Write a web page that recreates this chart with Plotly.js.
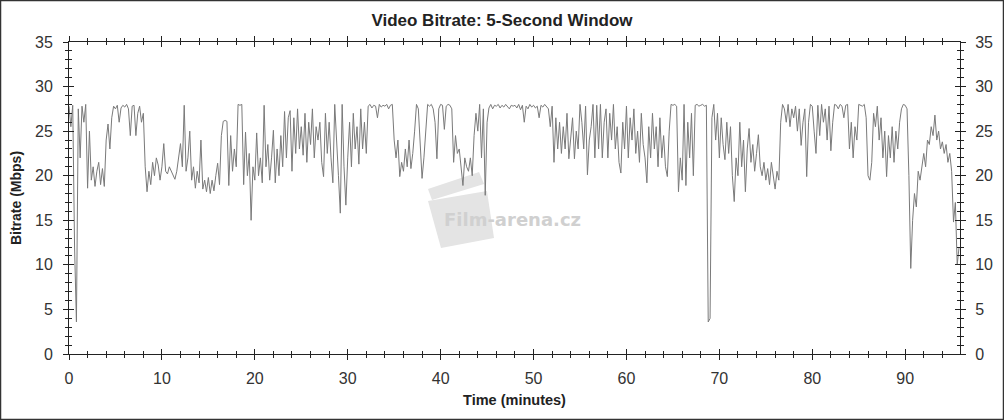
<!DOCTYPE html>
<html>
<head>
<meta charset="utf-8">
<script src="https://cdn.plot.ly/plotly-3.0.1.min.js"></script>
<style>
  html, body { margin: 0; padding: 0; background: #fff; }
  #chart { width: 1004px; height: 420px; }
</style>
</head>
<body>
<div id="chart"></div>
<script>
// Sampling step of the read-off series (minutes)
const STEP = 0.2;

// Video bitrate (Mbps), one value every 0.2 minutes
const bitrate = [
  27.8, 25.5, 27.9, 12, 3.6,
  27.5, 22, 27.8, 26, 28,
  18.6, 25, 19.5, 21, 18.8,
  20.5, 21.5, 19, 20.8, 18.8,
  24, 25.8, 23, 26.5, 27.8,
  27.5, 27.9, 26, 27.6, 27.9,
  27.7, 28, 27.5, 24.5, 27.8,
  27.9, 24.5, 27, 27.8, 26,
  27, 21, 18.2, 20.5, 19,
  21.5, 20, 22, 21.2, 19.5,
  21, 23.6, 20.5, 20.2, 21,
  20.5, 20, 19.6, 20.5, 21.8,
  23.6, 21, 27.9, 20.5, 22,
  25, 19.5, 21, 18.6, 20.5,
  19.2, 24, 18.5, 19.5, 18.2,
  19.8, 18, 19.5, 18.3, 20,
  21.4, 19, 24.5, 26.1, 26.2,
  26.1, 18.9, 24.5, 20.5, 23,
  21, 28, 27.9, 28, 19,
  24.9, 20, 22.5, 15.0, 21,
  19.5, 24.8, 20, 22, 19.2,
  27.9, 21, 23.5, 19.5, 22,
  25.1, 19.2, 23, 20, 24.5,
  21, 27.2, 22, 26.5, 27.3,
  20.5, 26.5, 22.5, 27.5, 23,
  25.5, 22.3, 27, 21.5, 26,
  23.5, 27.5, 22, 25.5, 24,
  26, 21.5, 19.9, 27, 22.5,
  26, 22, 19.2, 28, 23,
  20, 15.8, 28, 21, 16.7,
  22, 26, 21, 27, 23,
  25.5, 21.3, 27.5, 23, 26,
  22.5, 27.8, 28, 27.6, 27.9,
  27.8, 26.5, 28, 27.7, 27.9,
  27.8, 28, 27.5, 27.9, 28,
  24, 22, 24, 19.9, 21.5,
  20.5, 23, 21, 24, 20.8,
  22.5, 25, 28, 27.5, 23,
  19.7, 22, 24.5, 28, 27.8,
  28, 27.5, 26, 21.9, 27.5,
  28, 27.9, 25.2, 27.8, 28,
  27.9, 27.5, 21.5, 24.5, 22.5,
  23, 21, 18.9, 22, 21,
  20.5, 22, 20, 24.5, 27,
  25, 28, 22, 27.5, 17.8,
  26, 27.6, 28, 27.5, 27.9,
  27.8, 28, 27.6, 27.9, 27.7,
  28, 27.8, 27.5, 27.9, 27.8,
  27.9, 27.6, 28, 27.4, 27.9,
  26, 27.8, 27.5, 28, 27.7,
  27.9, 27.6, 27.8, 26.5, 27.9,
  27.7, 28, 27.8, 27.5, 25.5,
  27.8, 21.5, 26.5, 23, 26,
  22.5, 25.5, 23, 27, 21.9,
  24.5, 26.5, 21.9, 25, 23,
  28, 26, 23, 27.8, 20.1,
  24, 25.5, 28, 22, 27.9,
  23, 28, 22, 26, 27.5,
  22, 27, 24, 28, 23,
  25.5, 21.5, 20.3, 26, 23,
  27.8, 22, 26.5, 24, 27.5,
  22.5, 25, 21.5, 27, 23.5,
  22, 19.2, 25.5, 22, 27,
  23, 25.5, 21, 26.5, 22,
  24.5, 21, 19.9, 25, 28,
  27.9, 28, 27.8, 18.2, 22,
  19.5, 28, 18.9, 26, 22,
  27, 20, 27.9, 28, 27.8,
  27.9, 28, 27.8, 27.9, 3.6,
  4, 26.5, 28, 24, 27,
  22, 26.5, 23.5, 21.8, 26,
  22.5, 25.5, 20, 17.1, 22,
  20, 26, 21, 24, 18.2,
  23, 25.3, 21.5, 23.5, 20.5,
  22.5, 24.6, 21, 20, 21.5,
  19.5, 20.8, 19, 21.5, 20,
  18.5, 20.5, 19.5, 26, 28,
  27.5, 26, 28, 25.5, 27.5,
  26.5, 27.8, 25, 27.5, 23.4,
  26, 27.5, 19.9, 26, 28,
  27.8, 25, 22.5, 27.9, 24.5,
  28, 26, 27.5, 24, 27.8,
  22.8, 26, 28, 27.9, 27.5,
  28, 27.8, 26.5, 27.9, 28,
  23, 26, 22, 25.5, 24,
  28, 27.9, 27.8, 28, 26.5,
  20, 19.5, 21.5, 27, 25.5,
  27.8, 24, 26.5, 22, 25,
  19.9, 24.5, 22, 25.5, 21.5,
  25, 23, 26, 27.5, 28,
  27.9, 27.5, 20, 9.6, 15,
  18, 16.5, 20.5, 19.5, 21,
  22.5, 21, 24, 23.5, 25.5,
  24.5, 26.8, 24, 25, 23,
  23.8, 22.5, 23.5, 21.5, 22.5,
  20.5, 14.8, 17, 10, 12
];
const minutes = bitrate.map((_, i) => +(i * STEP).toFixed(1));

const chartTitle = 'Video Bitrate: 5-Second Window';
const xTitle = 'Time (minutes)';
const yTitle = 'Bitrate (Mbps)';
const watermark = 'Film-arena.cz';

const X_RANGE = [0, 95.9];
const Y_RANGE = [0, 35];

// plot-area geometry in pixels
const L = 69, R = 960, T = 42, B = 354;
const PW = R - L, PH = B - T;
const px = (x) => (x - L) / PW;
const py = (y) => (B - y) / PH;
function pathFrom(pts) {
  return pts.map((p, i) => (i ? 'L' : 'M') + px(p[0]).toFixed(4) + ',' + py(p[1]).toFixed(4)).join(' ') + ' Z';
}

const FONT = 'Liberation Sans, Arial, sans-serif';
const tickFont = { family: FONT, size: 16, color: '#333' };

const baseX = {
  range: X_RANGE, dtick: 10, tick0: 0,
  showline: true, linecolor: '#222', linewidth: 1,
  showgrid: false, zeroline: false, tickcolor: '#222', tickwidth: 1,
  mirror: 'ticks', fixedrange: true
};
const baseY = {
  range: Y_RANGE, dtick: 5, tick0: 0,
  showline: true, linecolor: '#222', linewidth: 1,
  showgrid: false, zeroline: false, tickcolor: '#222', tickwidth: 1,
  mirror: 'ticks', fixedrange: true
};

const traces = [
  { x: minutes, y: bitrate, type: 'scatter', mode: 'lines',
    line: { color: '#7a7a7a', width: 1 }, hoverinfo: 'skip', showlegend: false },
  { x: [], y: [], type: 'scatter', mode: 'lines', xaxis: 'x2', yaxis: 'y2',
    hoverinfo: 'skip', showlegend: false }
];

const layout = {
  width: 1004, height: 420,
  margin: { l: L, r: 1004 - R, t: T, b: 420 - B, pad: 0 },
  paper_bgcolor: '#fff', plot_bgcolor: '#fff',
  showlegend: false,
  title: { text: '<b>' + chartTitle + '</b>', x: 0.5, xref: 'container', xanchor: 'center',
           y: 1 - 20 / 420, yref: 'container', yanchor: 'middle',
           font: { family: FONT, size: 17, color: '#222' } },
  xaxis: Object.assign({}, baseX, {
    side: 'bottom', ticks: 'outside', ticklen: 5,
    minor: { dtick: 2, ticks: 'outside', ticklen: 3, tickcolor: '#222' },
    tickfont: tickFont, ticklabelstandoff: 5,
    title: { text: '<b>' + xTitle + '</b>', font: { family: FONT, size: 14.5, color: '#222' }, standoff: 8 }
  }),
  xaxis2: Object.assign({}, baseX, {
    overlaying: 'x', anchor: 'y2', side: 'bottom', ticks: 'inside', ticklen: 5,
    minor: { dtick: 2, ticks: 'inside', ticklen: 3, tickcolor: '#222' },
    showticklabels: false
  }),
  yaxis: Object.assign({}, baseY, {
    side: 'left', ticks: 'outside', ticklen: 5,
    minor: { dtick: 1, ticks: 'outside', ticklen: 3, tickcolor: '#222' },
    tickfont: tickFont, ticklabelstandoff: 7,
    title: { text: '<b>' + yTitle + '</b>', font: { family: FONT, size: 14, color: '#222' }, standoff: 10 }
  }),
  yaxis2: Object.assign({}, baseY, {
    overlaying: 'y', anchor: 'x2', side: 'right', ticks: 'inside', ticklen: 5,
    minor: { dtick: 1, ticks: 'inside', ticklen: 3, tickcolor: '#222' },
    tickfont: tickFont, ticklabelstandoff: 11, showticklabels: true
  }),
  shapes: [
    // outer frame of the image
    { type: 'rect', xref: 'paper', yref: 'paper', layer: 'above',
      x0: px(0.5), x1: px(1003.5), y0: py(419.5), y1: py(0.5),
      line: { color: '#333', width: 1.5 }, fillcolor: 'rgba(0,0,0,0)' },
    // watermark clapperboard body
    { type: 'path', xref: 'paper', yref: 'paper', layer: 'below',
      path: pathFrom([[428, 201], [487, 191], [494, 238], [441, 248]]),
      fillcolor: '#e4e4e4', line: { width: 0 } },
    // clapper arm
    { type: 'path', xref: 'paper', yref: 'paper', layer: 'below',
      path: pathFrom([[428, 189], [479, 172], [484, 184], [432, 200]]),
      fillcolor: '#e4e4e4', line: { width: 0 } }
  ],
  annotations: [
    { text: '<b>' + watermark + '</b>', xref: 'paper', yref: 'paper',
      x: px(512), y: py(219), xanchor: 'center', yanchor: 'middle', showarrow: false,
      font: { family: 'DejaVu Sans, sans-serif', size: 18, color: '#d0d0d0' } }
  ]
};

Plotly.newPlot('chart', traces, layout, { staticPlot: true, displayModeBar: false });
</script>
</body>
</html>
